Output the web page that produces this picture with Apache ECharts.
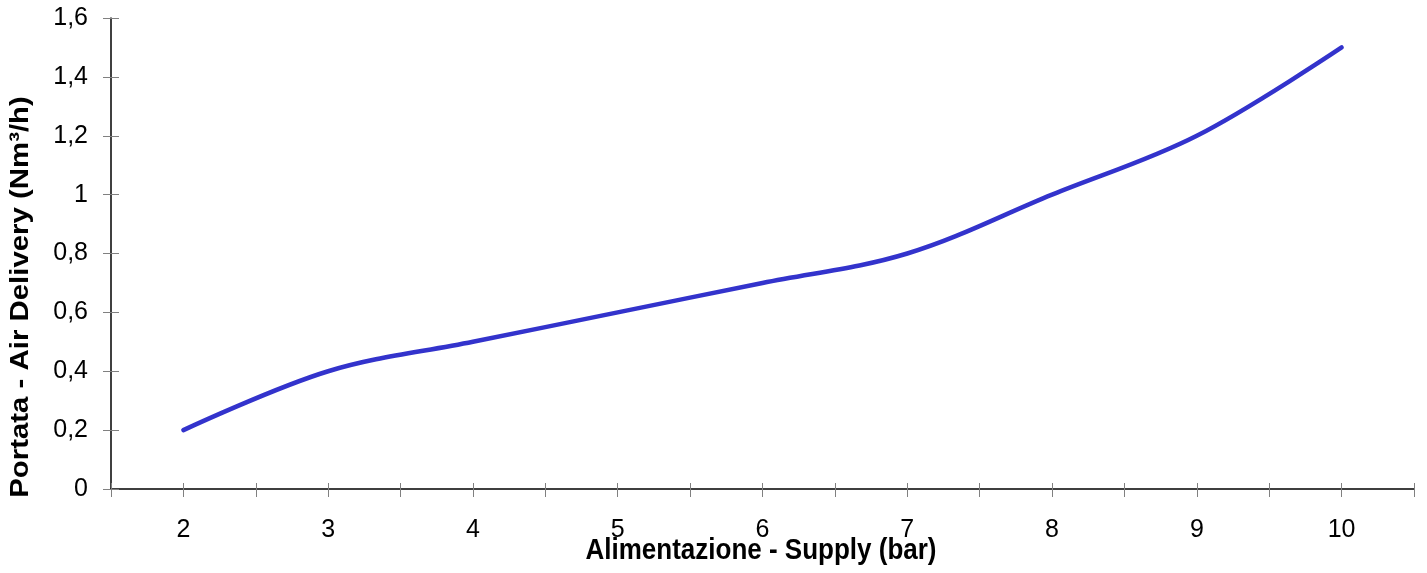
<!DOCTYPE html>
<html>
<head>
<meta charset="utf-8">
<script src="https://cdn.jsdelivr.net/npm/echarts@6/dist/echarts.min.js"></script>
<style>html,body{margin:0;padding:0;background:#fff}#c{width:1427px;height:573px}</style>
</head>
<body>
<div id="c"></div>
<script>
const supplyBar = [2, 3, 4, 5, 6, 7, 8, 9, 10];
const airDelivery = [0.2, 0.4, 0.5, 0.6, 0.7, 0.8, 1.0, 1.2, 1.5];
const xTitle = 'Alimentazione - Supply (bar)';
const yTitle = 'Portata - Air Delivery (Nm³/h)';

const chart = echarts.init(document.getElementById('c'), null, {renderer: 'canvas'});
const font = 'Liberation Sans, Arial, sans-serif';
const tickStyle = {color: '#808080', width: 1};
const xBase = {
  type: 'value', min: 1.5, max: 10.5, interval: 0.5,
  splitLine: {show: false}
};
const yBase = {
  type: 'value', min: 0, max: 1.6, interval: 0.2,
  splitLine: {show: false}
};
chart.setOption({
  animation: false,
  grid: {left: 111, right: 13, top: 18, bottom: 84},
  xAxis: [
    Object.assign({}, xBase, {
      axisLine: {show: true, onZero: false, lineStyle: {color: '#000', width: 1.5}},
      axisTick: {show: true, length: 8, lineStyle: tickStyle},
      axisLabel: {
        margin: 29, fontSize: 25, color: '#000', fontFamily: font,
        formatter: v => (Math.abs(v - Math.round(v)) < 1e-9 ? String(Math.round(v)) : '')
      }
    }),
    Object.assign({}, xBase, {
      position: 'bottom',
      axisLine: {show: false, onZero: false},
      axisTick: {show: true, inside: true, length: 6, lineStyle: tickStyle},
      axisLabel: {show: false}
    })
  ],
  yAxis: [
    Object.assign({}, yBase, {
      axisLine: {show: true, onZero: false, lineStyle: {color: '#000', width: 1.5}},
      axisTick: {show: true, length: 8, lineStyle: tickStyle},
      axisLabel: {
        margin: 23, fontSize: 25, color: '#000', fontFamily: font,
        formatter: v => String(Math.round(v * 10) / 10).replace('.', ',')
      }
    }),
    Object.assign({}, yBase, {
      position: 'left',
      axisLine: {show: false, onZero: false},
      axisTick: {show: true, inside: true, length: 8, lineStyle: tickStyle},
      axisLabel: {show: false}
    })
  ],
  graphic: [
    {type: 'text', z: 10, x: 761, y: 551, scaleY: 1.13,
     style: {text: xTitle, font: 'bold 26px ' + font, fill: '#000', textAlign: 'center', textVerticalAlign: 'middle'}},
    {type: 'text', z: 10, rotation: Math.PI / 2, x: 21, y: 297, scaleX: 1.13,
     style: {text: yTitle, font: 'bold 26px ' + font, fill: '#000', textAlign: 'center', textVerticalAlign: 'middle'}}
  ],
  series: [{
    type: 'line',
    xAxisIndex: 0, yAxisIndex: 0,
    data: supplyBar.map((x, i) => [x, airDelivery[i]]),
    smooth: 0.35,
    showSymbol: false,
    lineStyle: {color: '#3333CC', width: 4.5, cap: 'round'}
  }]
});
</script>
</body>
</html>
